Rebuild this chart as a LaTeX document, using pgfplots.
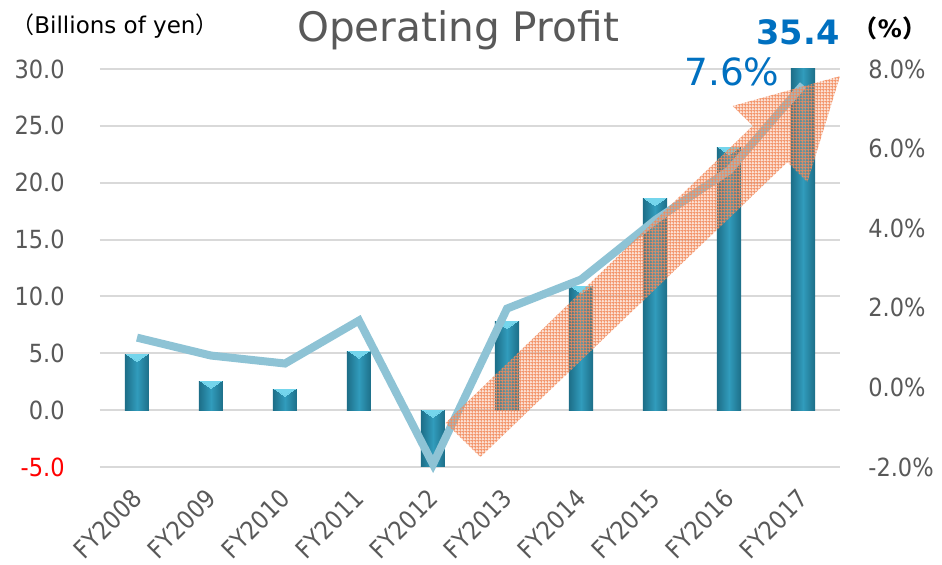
\documentclass[border=0pt]{standalone}
\usepackage{fontspec}
\setmainfont{DejaVu Sans}
\newfontfamily\cond{DejaVu Sans Condensed}
\newfontfamily\cjk{Noto Sans CJK JP}
\usepackage{pgfplots}
\pgfplotsset{compat=1.18}
\usetikzlibrary{patterns.meta}
\definecolor{tickgray}{HTML}{595959}
\definecolor{gridgray}{HTML}{D9D9D9}
\definecolor{barmid}{HTML}{319CBC}
\definecolor{bardark}{HTML}{1D6E88}
\definecolor{bevel}{HTML}{74D5EC}
\definecolor{linecol}{HTML}{8EC3D5}
\definecolor{labblue}{HTML}{0070C0}
\definecolor{arrowor}{HTML}{F28A5C}
\tikzdeclarepattern{
  name=finegrid,
  type=uncolored,
  bounding box={(0pt,0pt) and (1.6pt,1.6pt)},
  tile size={(1.6pt,1.6pt)},
  code={
    \pgfsetlinewidth{0.6pt}
    \pgfpathmoveto{\pgfpoint{0pt}{0.8pt}}\pgfpathlineto{\pgfpoint{1.6pt}{0.8pt}}
    \pgfpathmoveto{\pgfpoint{0.8pt}{0pt}}\pgfpathlineto{\pgfpoint{0.8pt}{1.6pt}}
    \pgfusepath{stroke}
  }
}
\pgfplotsset{barsty/.style={ybar, bar width=12pt, bar shift=0pt, draw=none, left color=bardark, right color=bardark, middle color=barmid}}
\begin{document}
\begin{tikzpicture}
\useasboundingbox (-50pt,-49pt) rectangle (421pt,233.5pt);
\begin{axis}[
  at={(0pt,0pt)}, anchor=south west,
  scale only axis, width=370pt, height=199pt,
  xmin=-0.5, xmax=9.5, ymin=-5, ymax=30,
  axis line style={draw=none}, major tick length=0pt,
  ytick={-5,0,5,10,15,20,25,30},
  yticklabels={{\textcolor{red}{-5.0}},0.0,5.0,10.0,15.0,20.0,25.0,30.0},
  ymajorgrids, grid style={gridgray, line width=1pt},
  xtick={0,...,9},
  xticklabels={FY2008,FY2009,FY2010,FY2011,FY2012,FY2013,FY2014,FY2015,FY2016,FY2017},
  yticklabel style={font=\cond\fontsize{12.5}{14}\selectfont, color=tickgray, anchor=east, inner sep=0pt, xshift=-17.5pt},
  xticklabel style={font=\cond\fontsize{12.5}{14}\selectfont, color=tickgray, xshift=-3pt, yshift=-10pt, rotate=45, anchor=north east, inner sep=0pt},
]
\addplot[barsty] coordinates {(0,4.9)};
\addplot[barsty] coordinates {(1,2.55)};
\addplot[barsty] coordinates {(2,1.85)};
\addplot[barsty] coordinates {(3,5.2)};
\addplot[barsty] coordinates {(4,-5.3)};
\addplot[barsty] coordinates {(5,7.8)};
\addplot[barsty] coordinates {(6,10.9)};
\addplot[barsty] coordinates {(7,18.6)};
\addplot[barsty] coordinates {(8,23.1)};
\addplot[barsty] coordinates {(9,35.4)};
\addplot[bevel, only marks, mark=triangle*, mark size=5.8pt, mark options={yshift=-1.2pt, rotate=180, yscale=0.4, fill=bevel, draw=bevel, line width=0pt}]
  coordinates {(0,4.9)(1,2.55)(2,1.85)(3,5.2)(4,0)(5,7.8)(6,10.9)(7,18.6)(8,23.1)};
\end{axis}
\begin{axis}[
  at={(0pt,0pt)}, anchor=south west,
  scale only axis, width=370pt, height=199pt,
  xmin=-0.5, xmax=9.5, ymin=-2, ymax=8,
  axis y line*=right, axis x line=none,
  axis line style={draw=none}, major tick length=0pt,
  xtick=\empty,
  ytick={-2,0,2,4,6,8},
  yticklabels={-2.0\%,0.0\%,2.0\%,4.0\%,6.0\%,8.0\%},
  yticklabel style={font=\cond\fontsize{12.5}{14}\selectfont, color=tickgray, anchor=west, inner sep=0pt, xshift=14pt},
  clip=false,
]
\addplot[linecol, line width=4pt, mark=none]
  coordinates {(0,1.25)(1,0.80)(2,0.60)(3,1.68)(4,-1.93)(5,1.98)(6,2.71)(7,4.2)(8,5.45)(9,7.6)};
\fill[arrowor, fill opacity=0.25] (axis cs:4.17,-0.894) -- (axis cs:8.32,6.57) -- (axis cs:8.05,7.07) -- (axis cs:9.50,7.82) -- (axis cs:9.06,5.16) -- (axis cs:8.79,5.66) -- (axis cs:4.64,-1.75) -- cycle;
\fill[pattern=finegrid, pattern color=arrowor, opacity=0.85] (axis cs:4.17,-0.894) -- (axis cs:8.32,6.57) -- (axis cs:8.05,7.07) -- (axis cs:9.50,7.82) -- (axis cs:9.06,5.16) -- (axis cs:8.79,5.66) -- (axis cs:4.64,-1.75) -- cycle;
\end{axis}
\node[anchor=west, inner sep=0pt] at (-44.5pt,220.5pt) {\fontsize{11.5}{13}\selectfont{\cjk （}Billions of yen{\cjk ）}};
\node[inner sep=0pt, text=tickgray] at (179pt,218.5pt) {\fontsize{20.3}{24}\selectfont Operating Profit};
\node[inner sep=0pt, text=labblue] at (349pt,217.5pt) {\fontsize{16.8}{20}\selectfont\bfseries 35.4};
\node[inner sep=0pt] at (395pt,219.5pt) {\fontsize{12}{14}\selectfont\bfseries{\cjk （}\%{\cjk ）}};
\node[inner sep=0pt, text=labblue] at (316pt,197.5pt) {\fontsize{18.7}{22}\selectfont 7.6\%};
\end{tikzpicture}
\end{document}
